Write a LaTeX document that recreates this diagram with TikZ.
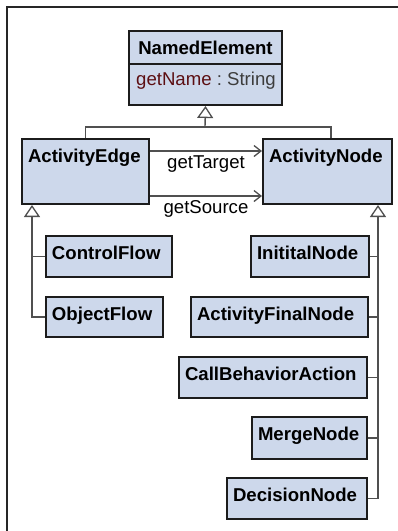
\documentclass[tikz,border=0pt]{standalone}
\usepackage{fontspec}
\setmainfont{Liberation Sans}
\usetikzlibrary{arrows.meta}
\definecolor{clsfill}{RGB}{205,216,235}
\definecolor{clsline}{RGB}{28,28,28}
\definecolor{wire}{RGB}{80,80,80}
\definecolor{opname}{RGB}{92,14,18}
\definecolor{optype}{RGB}{60,60,60}
\tikzset{
  cls/.style={draw=clsline, line width=2pt, fill=clsfill, anchor=north west,
    font=\fontsize{18.6}{22}\selectfont\bfseries, inner xsep=6pt, inner ysep=0pt,
    align=left, text height=23pt},
  link/.style={draw=wire, line width=1.4pt},
  gen/.style={link, -{Triangle[open, length=12pt, width=16pt, line width=1.3pt, fill=white]}},
  nav/.style={link, -{Straight Barb[length=7pt, width=11pt, line width=1.3pt]}},
  lbl/.style={font=\fontsize{18.6}{22}\selectfont, inner sep=0pt}
}
\begin{document}
\begin{tikzpicture}[x=1pt, y=-1pt]
\useasboundingbox (0,0) rectangle (398,531);
% outer frame
\draw[line width=2.5pt, black!85] (7,531) -- (7,7) -- (398,7);

% abstract root class with its operation compartment
\node[cls, text width=141pt, align=center, text depth=51pt] (ne) at (128,30) {NamedElement};
\draw[draw=clsline, line width=2pt] ([yshift=-34pt]ne.north west) -- ([yshift=-34pt]ne.north east);
\node[lbl, anchor=base west] (op) at ([xshift=8pt, yshift=-55pt]ne.north west)
  {\textcolor{opname}{getName}\textcolor{optype}{\ :\ String}};

% edge and node classes
\node[cls, text width=115pt, text depth=42pt] (ae) at (21,138) {ActivityEdge};
\node[cls, text width=117pt, text depth=42pt] (an) at (262,138) {ActivityNode};

% edge kinds
\node[cls, text width=114pt, text depth=18pt] (cf) at (45,235) {ControlFlow};
\node[cls, text width=105pt, text depth=17pt] (of) at (45,296) {ObjectFlow};

% node kinds
\node[cls, text width=106pt, text depth=18pt] (in) at (250,235) {InititalNode};
\node[cls, text width=165pt, text depth=17pt] (afn) at (190,296) {ActivityFinalNode};
\node[cls, text width=176pt, text depth=18pt] (cba) at (178,356) {CallBehaviorAction};
\node[cls, text width=103pt, text depth=19pt] (mn) at (251,416) {MergeNode};
\node[cls, text width=128pt, text depth=18pt] (dn) at (226,477) {DecisionNode};

% generalisation to NamedElement
\coordinate (bar) at (205,127);
\coordinate (anTop) at (331,138);
\draw[link] (ae.north) |- (bar) -| (anTop);
\draw[gen] (bar) -- (ne.south);

% associations between edges and nodes
\draw[nav] ([yshift=-13pt]ae.north east) -- node[lbl, below=4pt] (tgt) {getTarget} ([yshift=-13pt]an.north west);
\draw[nav] ([yshift=9pt]ae.south east) -- node[lbl, below=4pt] (src) {getSource} ([yshift=9pt]an.south west);

% specialisations of ActivityEdge
\coordinate (lt) at (32,0);
\draw[gen] (of.west) -| (ae.south -| lt);
\draw[link] (cf.west) -- (cf.west -| lt);

% specialisations of ActivityNode
\coordinate (rt) at (378,0);
\draw[gen] (dn.east) -| (an.south -| rt);
\draw[link] (in.east) -- (in.east -| rt);
\draw[link] (afn.east) -- (afn.east -| rt);
\draw[link] (cba.east) -- (cba.east -| rt);
\draw[link] (mn.east) -- (mn.east -| rt);
\end{tikzpicture}
\end{document}
